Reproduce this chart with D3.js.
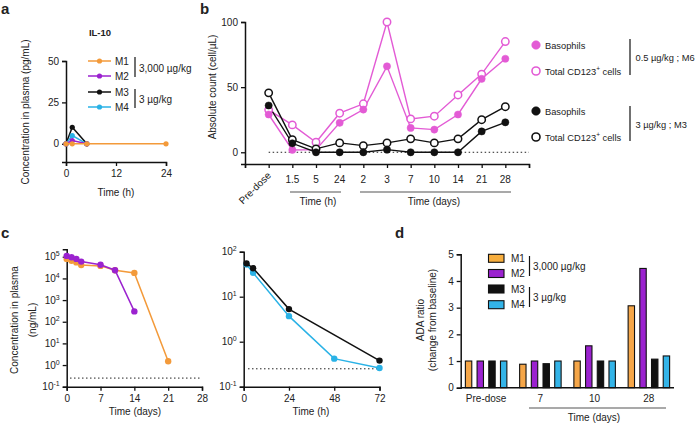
<!DOCTYPE html>
<html><head><meta charset="utf-8">
<script src="https://cdn.jsdelivr.net/npm/d3@7"></script>
<style>
body{margin:0;background:#fff}
text{font-family:"Liberation Sans",Arial,Helvetica,sans-serif;fill:#222}
</style>
</head><body>
<svg id="c" width="698" height="424"></svg>
<script>
// ---------------- DATA ----------------
// Panel a: IL-10 (pg/mL)
const aTimesM1 = [0, 1.5, 5, 24];
const aM1 = [0, 0, 0, 0];
const aTimes = [0, 1.5, 5];
const aM2 = [0, 2, 0];
const aM3 = [0, 10, 0];
const aM4 = [0, 5, 0];
const aXTicks = [0, 12, 24];
const aYTicks = [0, 25, 50];

// Panel b: absolute counts (cell/µL)
const bCats = ["Pre-dose", "1.5", "5", "24", "2", "3", "7", "10", "14", "21", "28"];
const bM6Baso  = [29, 1.8, 2, 22.6, 32.8, 66, 18.7, 17.4, 29, 56.4, 71.8];
const bM6Total = [32.6, 21, 7.7, 30, 37.2, 100, 25.6, 27.7, 44, 60, 85];
const bM3Baso  = [35.9, 6.9, 0, 0, 0, 2, 0, 0, 0, 16, 23];
const bM3Total = [45.6, 9.7, 2.6, 7.2, 5.1, 7.2, 10.3, 7.2, 10.3, 25, 35];
const bYTicks = [0, 50, 100];

// Panel c: concentration in plasma (ng/mL)
const cDaysM1 = [0, 1, 2, 3, 7, 10, 14, 21];
const cM1 = [8e4, 6.5e4, 5.5e4, 4.2e4, 3.8e4, 2.4e4, 1.8e4, 1.5];
const cDaysM2 = [0, 1, 2, 3, 7, 10, 14];
const cM2 = [1.1e5, 9.5e4, 8e4, 6e4, 4.3e4, 2.4e4, 300];
const cHoursM3 = [1.5, 5, 24, 72];
const cM3 = [55, 43, 5.3, 0.38];
const cHoursM4 = [1.5, 5, 24, 48, 72];
const cM4 = [52, 34, 3.7, 0.42, 0.26];
const cLLOQ = 0.25;
const cDayTicks = [0, 7, 14, 21, 28];
const cHourTicks = [0, 24, 48, 72];
const cLeftExp = [-1, 0, 1, 2, 3, 4, 5];
const cRightExp = [-1, 0, 1, 2];

// Panel d: ADA ratio
const dCats = ["Pre-dose", "7", "10", "28"];
const dM1 = [1, 0.88, 1, 3.07];
const dM2 = [1, 1, 1.57, 4.47];
const dM3 = [1, 0.9, 1, 1.07];
const dM4 = [1, 1, 1, 1.19];
const dYTicks = [0, 1, 2, 3, 4, 5];

// ---------------- STYLE ----------------
const ORANGE = "#F39A3A", PURPLE = "#9B22CF", BLACK = "#111", CYAN = "#2AB2E6", PINK = "#E35BD5";
const BAR_ORANGE = "#F5A648", BAR_CYAN = "#33B4E8";
const svg = d3.select("#c");
const FS = 10;

function styleAxis(g) {
  g.selectAll(".domain").attr("stroke", "#111").attr("stroke-width", 1.5);
  g.selectAll(".tick line").attr("stroke", "#111").attr("stroke-width", 1.3);
  g.selectAll(".tick text").attr("font-size", FS).attr("fill", "#222")
    .attr("font-family", "Liberation Sans, Arial, sans-serif");
}
function txt(x, y, s, opt = {}) {
  const t = svg.append("text").attr("x", x).attr("y", y).text(s)
    .attr("font-size", opt.size || FS).attr("text-anchor", opt.anchor || "start");
  if (opt.bold) t.attr("font-weight", "bold");
  if (opt.rotate !== undefined) t.attr("transform", `rotate(${opt.rotate},${x},${y})`);
  return t;
}
function vline(x, y1, y2, w = 1.2, c = "#111") {
  svg.append("line").attr("x1", x).attr("x2", x).attr("y1", y1).attr("y2", y2)
    .attr("stroke", c).attr("stroke-width", w);
}
function hline(x1, x2, y, w = 1.2, c = "#111", dash = null) {
  const l = svg.append("line").attr("x1", x1).attr("x2", x2).attr("y1", y).attr("y2", y)
    .attr("stroke", c).attr("stroke-width", w);
  if (dash) l.attr("stroke-dasharray", dash);
}

// ---------------- PANEL LETTERS ----------------
txt(1, 14, "a", { size: 15, bold: true });
txt(200, 14, "b", { size: 15, bold: true });
txt(1, 238, "c", { size: 15, bold: true });
txt(395, 238, "d", { size: 15, bold: true });

// ---------------- PANEL A ----------------
{
  const x = d3.scaleLinear().domain([0, 24]).range([66, 166]);
  const y = d3.scaleLinear().domain([-11, 50]).range([162, 61]);
  svg.append("g").attr("transform", "translate(0,162)")
    .call(d3.axisBottom(x).tickValues(aXTicks).tickSizeOuter(0).tickSize(4).tickPadding(4)).call(styleAxis);
  svg.append("g").attr("transform", "translate(66,0)")
    .call(d3.axisLeft(y).tickValues(aYTicks).tickSizeOuter(0).tickSize(4).tickPadding(3)).call(styleAxis);
  txt(100, 36, "IL-10", { anchor: "middle", bold: true, size: 9.5 });
  txt(116, 196, "Time (h)", { anchor: "middle" });
  txt(29, 112, "Concentration in plasma (pg/mL)", { anchor: "middle", rotate: -90 });

  const line = d3.line().x(d => x(d[0])).y(d => y(d[1]));
  const series = [
    { t: aTimes, v: aM3, c: BLACK },
    { t: aTimes, v: aM4, c: CYAN },
    { t: aTimes, v: aM2, c: PURPLE },
    { t: aTimesM1, v: aM1, c: ORANGE }
  ];
  series.forEach(s => {
    const pts = s.t.map((t, i) => [t, s.v[i]]);
    svg.append("path").datum(pts).attr("d", line).attr("fill", "none")
      .attr("stroke", s.c).attr("stroke-width", 1.5);
    svg.selectAll(null).data(pts).enter().append("circle")
      .attr("cx", d => x(d[0])).attr("cy", d => y(d[1])).attr("r", 2.6).attr("fill", s.c);
  });
  // legend
  const leg = [["M1", ORANGE, 61], ["M2", PURPLE, 76], ["M3", BLACK, 92], ["M4", CYAN, 107]];
  leg.forEach(([n, c, yy]) => {
    hline(88, 111, yy, 1.5, c);
    svg.append("circle").attr("cx", 99.5).attr("cy", yy).attr("r", 2.6).attr("fill", c);
    txt(115, yy + 3.5, n);
  });
  vline(135, 57, 77, 1.2);
  vline(135, 89, 108, 1.2);
  txt(139, 72, "3,000 µg/kg");
  txt(139, 103, "3 µg/kg");
}

// ---------------- PANEL B ----------------
{
  const x = d3.scaleLinear().domain([-1, 11]).range([245, 529]);
  const y = d3.scaleLinear().domain([-9, 100]).range([164, 22]);
  svg.append("g").attr("transform", "translate(0,164)")
    .call(d3.axisBottom(x).tickValues(d3.range(-1, 12)).tickFormat("").tickSizeOuter(0).tickSize(4)).call(styleAxis);
  svg.append("g").attr("transform", "translate(245,0)")
    .call(d3.axisLeft(y).tickValues(bYTicks).tickSizeOuter(0).tickSize(4).tickPadding(3)).call(styleAxis);
  bCats.forEach((c, i) => {
    if (i === 0) txt(x(i) + 3, 176, c, { anchor: "end", rotate: -45 });
    else txt(x(i), 183, c, { anchor: "middle" });
  });
  hline(x(0), 529, y(0), 1, "#222", "1.5,2.5");
  hline(290, 341, 192, 1.2, "#555");
  hline(360, 511, 192, 1.2, "#555");
  txt(318, 205, "Time (h)", { anchor: "middle" });
  txt(434, 205, "Time (days)", { anchor: "middle" });
  txt(216, 87, "Absolute count (cell/µL)", { anchor: "middle", rotate: -90 });

  const line = d3.line().x((d, i) => x(i)).y(d => y(d));
  const series = [
    { v: bM6Total, c: PINK, filled: false },
    { v: bM6Baso, c: PINK, filled: true },
    { v: bM3Total, c: BLACK, filled: false },
    { v: bM3Baso, c: BLACK, filled: true }
  ];
  series.forEach(s => {
    svg.append("path").datum(s.v).attr("d", line).attr("fill", "none")
      .attr("stroke", s.c).attr("stroke-width", 1.4);
  });
  series.forEach(s => {
    svg.selectAll(null).data(s.v).enter().append("circle")
      .attr("cx", (d, i) => x(i)).attr("cy", d => y(d)).attr("r", s.filled ? 3.6 : 3.7)
      .attr("fill", s.filled ? s.c : "#fff").attr("stroke", s.c).attr("stroke-width", s.filled ? 0.5 : 1.5);
  });
  // legend
  const LFS = 9.3;
  const leg = [[PINK, true, "Basophils", 45], [PINK, false, "Total CD123", 71],
               [BLACK, true, "Basophils", 111], [BLACK, false, "Total CD123", 137]];
  leg.forEach(([c, f, label, yy]) => {
    svg.append("circle").attr("cx", 536).attr("cy", yy).attr("r", f ? 4.3 : 4)
      .attr("fill", f ? c : "#fff").attr("stroke", c).attr("stroke-width", f ? 0.5 : 1.6);
    const t = txt(545, yy + 3.5, label, { size: LFS });
    if (!f) {
      t.append("tspan").text("+").attr("font-size", 6.5).attr("dy", -4);
      t.append("tspan").text(" cells").attr("dy", 4);
    }
  });
  vline(630, 39, 75, 1.2);
  vline(630, 106, 141, 1.2);
  txt(635.5, 61, "0.5 µg/kg ; M6", { size: LFS });
  txt(635.5, 127.5, "3 µg/kg ; M3", { size: LFS });
}

// ---------------- PANEL C ----------------
function logLabels(g) {
  g.selectAll(".tick text").each(function (d) {
    const e = Math.round(Math.log10(d));
    const t = d3.select(this).text("");
    t.append("tspan").text("10");
    t.append("tspan").text(e).attr("font-size", 7).attr("dy", -4);
  });
}
{
  // left
  const x = d3.scaleLinear().domain([0, 28]).range([66.7, 202]);
  const y = d3.scaleLog().domain([0.1, Math.pow(10, 5.35)]).range([386.7, 249.2]);
  svg.append("g").attr("transform", "translate(0,386.7)")
    .call(d3.axisBottom(x).tickValues(cDayTicks).tickSizeOuter(0).tickSize(4).tickPadding(4)).call(styleAxis);
  svg.append("g").attr("transform", "translate(66.7,0)")
    .call(d3.axisLeft(y).tickValues(cLeftExp.map(e => Math.pow(10, e))).tickSizeOuter(0).tickSize(4).tickPadding(3))
    .call(styleAxis).call(logLabels);
  hline(70, 200, y(cLLOQ), 1, "#222", "1.5,2.5");
  txt(135, 415, "Time (days)", { anchor: "middle" });
  txt(18, 320, "Concentration in plasma", { anchor: "middle", rotate: -90 });
  txt(36, 320, "(ng/mL)", { anchor: "middle", rotate: -90 });
  const line = d3.line().x(d => x(d[0])).y(d => y(d[1]));
  [{ t: cDaysM1, v: cM1, c: ORANGE }, { t: cDaysM2, v: cM2, c: PURPLE }].forEach(s => {
    const pts = s.t.map((t, i) => [t, s.v[i]]);
    svg.append("path").datum(pts).attr("d", line).attr("fill", "none").attr("stroke", s.c).attr("stroke-width", 1.5);
    svg.selectAll(null).data(pts).enter().append("circle")
      .attr("cx", d => x(d[0])).attr("cy", d => y(d[1])).attr("r", 3.2).attr("fill", s.c);
  });
}
{
  // right
  const x = d3.scaleLinear().domain([0, 72]).range([243.7, 379.5]);
  const y = d3.scaleLog().domain([0.1, 100]).range([386.7, 251.7]);
  svg.append("g").attr("transform", "translate(0,386.7)")
    .call(d3.axisBottom(x).tickValues(cHourTicks).tickSizeOuter(0).tickSize(4).tickPadding(4)).call(styleAxis);
  svg.append("g").attr("transform", "translate(243.7,0)")
    .call(d3.axisLeft(y).tickValues(cRightExp.map(e => Math.pow(10, e))).tickSizeOuter(0).tickSize(4).tickPadding(3))
    .call(styleAxis).call(logLabels);
  hline(248, 380, y(cLLOQ), 1, "#222", "1.5,2.5");
  txt(311, 415, "Time (h)", { anchor: "middle" });
  const line = d3.line().x(d => x(d[0])).y(d => y(d[1]));
  [{ t: cHoursM4, v: cM4, c: CYAN }, { t: cHoursM3, v: cM3, c: BLACK }].forEach(s => {
    const pts = s.t.map((t, i) => [t, s.v[i]]);
    svg.append("path").datum(pts).attr("d", line).attr("fill", "none").attr("stroke", s.c).attr("stroke-width", 1.5);
    svg.selectAll(null).data(pts).enter().append("circle")
      .attr("cx", d => x(d[0])).attr("cy", d => y(d[1])).attr("r", 3.2).attr("fill", s.c);
  });
}

// ---------------- PANEL D ----------------
{
  const x = d3.scaleBand().domain(dCats).range([459, 676]);
  const y = d3.scaleLinear().domain([0, 5]).range([387.7, 254.3]);
  svg.append("g").attr("transform", "translate(460.7,0)")
    .call(d3.axisLeft(y).tickValues(dYTicks).tickFormat(d3.format("d")).tickSizeOuter(0).tickSize(4).tickPadding(3)).call(styleAxis);
  const series = [[dM1, BAR_ORANGE], [dM2, PURPLE], [dM3, BLACK], [dM4, BAR_CYAN]];
  const bw = 6.4, step = 11.7;
  dCats.forEach((c, gi) => {
    const cx = x(c) + x.bandwidth() / 2;
    series.forEach(([vals, col], si) => {
      const bx = cx + (si - 1.5) * step - bw / 2;
      svg.append("rect").attr("x", bx).attr("y", y(vals[gi])).attr("width", bw)
        .attr("height", y(0) - y(vals[gi])).attr("fill", col).attr("stroke", "#111").attr("stroke-width", 1.1);
    });
    txt(cx, 402, c, { anchor: "middle" });
  });
  hline(460.7, 674, y(0), 1.5);
  hline(529, 666, 408, 1.2, "#555");
  txt(594, 421, "Time (days)", { anchor: "middle" });
  txt(424, 320, "ADA ratio", { anchor: "middle", rotate: -90 });
  txt(436, 320, "(change from baseline)", { anchor: "middle", rotate: -90 });
  const leg = [["M1", "#F7AE3E", 254.3], ["M2", PURPLE, 269.5], ["M3", BLACK, 285], ["M4", BAR_CYAN, 300.7]];
  leg.forEach(([n, c, yy]) => {
    svg.append("rect").attr("x", 488.5).attr("y", yy).attr("width", 15.5).attr("height", 8)
      .attr("fill", c).attr("stroke", "#111").attr("stroke-width", 1.1);
    txt(511, yy + 7.5, n);
  });
  vline(529.5, 256, 276, 1.2);
  vline(529.5, 287, 307, 1.2);
  txt(533, 270, "3,000 µg/kg");
  txt(533, 300.5, "3 µg/kg");
}
</script>
</body></html>
